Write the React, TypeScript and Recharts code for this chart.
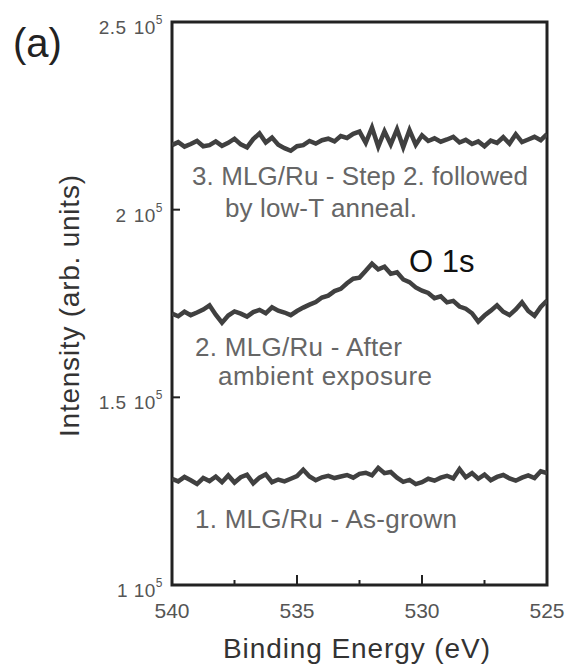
import React from 'react';
import { LineChart, Line, XAxis, YAxis, ReferenceArea } from 'recharts';

const energies = [
  540, 539.75, 539.5, 539.25, 539, 538.75, 538.5, 538.25, 538, 537.75,
  537.5, 537.25, 537, 536.75, 536.5, 536.25, 536, 535.75, 535.5, 535.25,
  535, 534.75, 534.5, 534.25, 534, 533.75, 533.5, 533.25, 533, 532.75,
  532.5, 532.25, 532, 531.75, 531.5, 531.25, 531, 530.75, 530.5, 530.25,
  530, 529.75, 529.5, 529.25, 529, 528.75, 528.5, 528.25, 528, 527.75,
  527.5, 527.25, 527, 526.75, 526.5, 526.25, 526, 525.75, 525.5, 525.25,
  525,
];

// 1. MLG/Ru - As-grown
const asGrown = [
  128300, 127600, 128800, 127900, 126900, 128500, 127700, 128900, 127400, 129200,
  127300, 128700, 129400, 127100, 128600, 129500, 127400, 128100, 127600, 128300,
  129000, 130700, 128900, 127900, 128700, 129100, 128500, 128900, 129300, 128600,
  129600, 129900, 129200, 131200, 129800, 130100, 128600, 127500, 128000, 126900,
  127400, 128300, 127800, 128600, 129100, 128400, 130900, 128700, 129800, 128300,
  129400, 127900, 128800, 129300, 128400, 127800, 128600, 129200, 128500, 130300,
  129800,
];

// 2. MLG/Ru - After ambient exposure
const afterExposure = [
  172300, 171600, 172800, 171900, 172600, 173400, 174500, 172000, 169900, 171800,
  172900, 172300, 171500, 172700, 173300, 172400, 174000, 173100, 172600, 171900,
  173000, 173900, 174700, 175400, 176600, 177100, 178300, 178900, 180400, 181600,
  181900, 183700, 185600, 184100, 184800, 182900, 183300, 181400, 180700, 179300,
  178400, 177800, 176400, 176900, 175300, 175700, 174200, 173600, 172400, 170200,
  171800, 173100, 174500, 172800, 171900, 173400, 175300, 173000, 171700, 174100,
  175800,
];

// 3. MLG/Ru - Step 2. followed by low-T anneal
const afterAnneal = [
  217200, 218000, 216800, 217500, 218300, 216900, 217200, 218200, 217000, 217800,
  218900, 217400, 216600, 218800, 220300, 217900, 219200, 217300, 216400, 215700,
  216900, 217200, 218300, 217600, 218500, 218900, 218200, 219600, 219100, 220200,
  220800, 217800, 221900, 216800, 220900, 217400, 221400, 216600, 221200, 217300,
  219800, 218300, 219000, 218100, 218700, 219400, 217900, 218600, 217500, 218200,
  216900, 218400, 217800, 219300, 217600, 220100, 218000, 218700, 219400, 218500,
  220100,
];

const xTicks = [540, 537.5, 535, 532.5, 530, 527.5, 525];
const xMajorTicks = [540, 535, 530, 525];
const yTicks = [100000, 150000, 200000, 250000];
const yTickMantissa = ['1', '1.5', '2', '2.5'];

const data = energies.map((e, i) => ({
  e,
  s1: asGrown[i],
  s2: afterExposure[i],
  s3: afterAnneal[i],
}));

const FONT = "'Liberation Sans', Arial, Helvetica, sans-serif";

const XTick = (props: any) => {
  const { x, y, payload } = props;
  const v = payload.value;
  const major = xMajorTicks.includes(v);
  const len = major ? 10 : 5;
  const edge = v === 540 || v === 525;
  return (
    <g>
      {!edge && <line x1={x} y1={y} x2={x} y2={y - len} stroke="#222" strokeWidth={2} />}
      {major && (
        <text x={x} y={y + 33} textAnchor="middle" fontFamily={FONT} fontSize={21} fill="#555">
          {v}
        </text>
      )}
    </g>
  );
};

const YTick = (props: any) => {
  const { x, y, payload } = props;
  const v = payload.value;
  const idx = yTicks.indexOf(v);
  const edge = v === 100000 || v === 250000;
  return (
    <g>
      {!edge && <line x1={x} y1={y} x2={x + 8} y2={y} stroke="#222" strokeWidth={2} />}
      <text x={x - 9} y={y + 12} textAnchor="end" fontFamily={FONT} fontSize={19} fill="#555" letterSpacing={0.5}>
        <tspan>{yTickMantissa[idx]}</tspan>
        <tspan dx={7}>10</tspan>
        <tspan dy={-10} fontSize={12}>5</tspan>
      </text>
    </g>
  );
};

export default function App() {
  return (
    <div style={{ position: 'absolute', left: 0, top: 0, width: 569, height: 672, background: '#fff' }}>
      <LineChart
        width={569}
        height={672}
        data={data}
        margin={{ top: 22, right: 22, bottom: 57, left: 112 }}
      >
        <XAxis
          dataKey="e"
          type="number"
          domain={[525, 540]}
          reversed
          ticks={xTicks}
          interval={0}
          tickSize={0}
          tickMargin={0}
          axisLine={false}
          tickLine={false}
          tick={<XTick />}
          height={30}
          allowDataOverflow
        />
        <YAxis
          type="number"
          domain={[100000, 250000]}
          ticks={yTicks}
          interval={0}
          tickSize={0}
          tickMargin={0}
          axisLine={false}
          tickLine={false}
          tick={<YTick />}
          width={60}
          allowDataOverflow
        />
        <ReferenceArea
          x1={540}
          x2={525}
          y1={100000}
          y2={250000}
          fill="none"
          stroke="#222"
          strokeWidth={3}
          ifOverflow="visible"
        />
        <Line dataKey="s1" type="linear" stroke="#404040" strokeWidth={4.5} strokeLinejoin="miter" dot={false} isAnimationActive={false} />
        <Line dataKey="s2" type="linear" stroke="#404040" strokeWidth={4.5} strokeLinejoin="miter" dot={false} isAnimationActive={false} />
        <Line dataKey="s3" type="linear" stroke="#404040" strokeWidth={4.5} strokeLinejoin="miter" dot={false} isAnimationActive={false} />
      </LineChart>
      <svg
        width={569}
        height={672}
        style={{ position: 'absolute', left: 0, top: 0, pointerEvents: 'none' }}
        fontFamily={FONT}
      >
        <text x={13} y={57} fontSize={40} fill="#222">(a)</text>
        <text transform="translate(79,306) rotate(-90)" textAnchor="middle" fontSize={28} fill="#333" textLength={262} lengthAdjust="spacing">
          Intensity (arb. units)
        </text>
        <text x={223} y={658} fontSize={28} fill="#333" textLength={267} lengthAdjust="spacing">Binding Energy (eV)</text>
        <text x={192} y={185} fontSize={26} fill="#666" textLength={336} lengthAdjust="spacing">3. MLG/Ru - Step 2. followed</text>
        <text x={225} y={217} fontSize={26} fill="#666" textLength={192} lengthAdjust="spacing">by low-T anneal.</text>
        <text x={409} y={272} fontSize={31} fill="#111">O 1s</text>
        <text x={195} y={356} fontSize={26} fill="#666" textLength={207} lengthAdjust="spacing">2. MLG/Ru - After</text>
        <text x={218} y={385} fontSize={26} fill="#666" textLength={214} lengthAdjust="spacing">ambient exposure</text>
        <text x={195} y={528} fontSize={26} fill="#666" textLength={262} lengthAdjust="spacing">1. MLG/Ru - As-grown</text>
      </svg>
    </div>
  );
}
